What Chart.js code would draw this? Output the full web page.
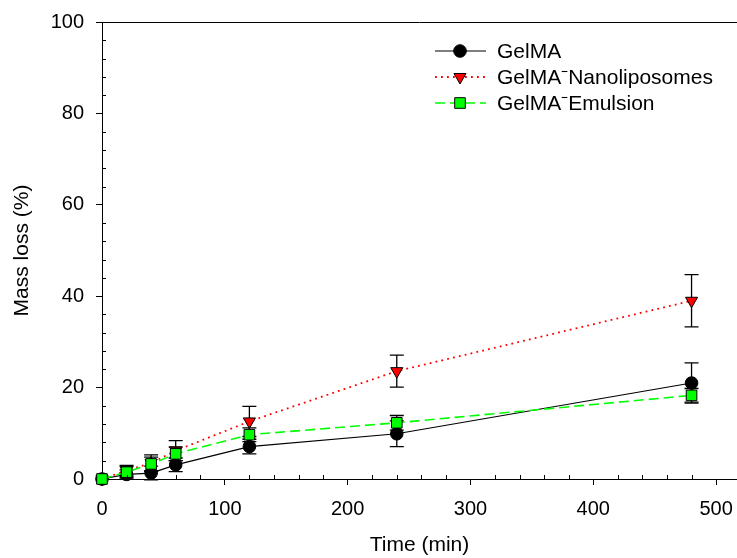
<!DOCTYPE html>
<html><head><meta charset="utf-8">
<script src="https://cdn.jsdelivr.net/npm/chart.js@4/dist/chart.umd.min.js"></script>
<style>html,body{margin:0;padding:0;background:#fff}</style>
</head><body>
<canvas id="c" width="737" height="558"></canvas>
<script>
// ---- data ----
const timeMin = [0, 20, 40, 60, 120, 240, 480];
const gelma = [0, 1.0, 1.3, 3.1, 7.1, 9.9, 21.0];
const gelmaErr = [0, 1.0, 1.5, 1.5, 1.6, 2.8, 4.4];
const nano = [0, 1.8, 3.5, 6.2, 12.6, 23.6, 39.0];
const nanoErr = [0, 1.2, 1.8, 2.2, 3.3, 3.5, 5.7];
const emul = [0, 1.5, 3.3, 5.5, 9.7, 12.3, 18.3];
const emulErr = [0, 1.2, 1.5, 1.5, 1.5, 1.6, 1.5];
const seriesNames = ['GelMA', 'GelMA\u207BNanoliposomes', 'GelMA\u207BEmulsion'];
const xTicks = [0, 100, 200, 300, 400, 500];
const yTicks = [0, 20, 40, 60, 80, 100];
const xMinorStep = 20;
const yMinorStep = 4;
const xTitle = 'Time (min)';
const yTitle = 'Mass loss (%)';

const FONT = "'Liberation Sans', Arial, Helvetica, sans-serif";
Chart.defaults.font.family = FONT;
Chart.defaults.font.size = 20;
Chart.defaults.color = '#000';

const toPts = (ys) => timeMin.map((x, i) => ({x: x, y: ys[i]}));

const errors = [gelmaErr, nanoErr, emulErr];

const datasets = [
  {label: seriesNames[0], data: toPts(gelma), borderColor: '#000', borderWidth: 1.2,
   pointStyle: 'circle', pointRadius: 6.3, pointBackgroundColor: '#000', pointBorderColor: '#000',
   pointBorderWidth: 1, order: 3, clip: false},
  {label: seriesNames[1], data: toPts(nano), borderColor: '#ff0000', borderWidth: 1.8, borderDash: [1.8, 4.2],
   pointStyle: 'triangle', pointRotation: 180, pointRadius: 7, pointBackgroundColor: '#ff0000', pointBorderColor: '#000',
   pointBorderWidth: 1, order: 2, clip: false},
  {label: seriesNames[2], data: toPts(emul), borderColor: '#00ff00', borderWidth: 1.6, borderDash: [10, 5],
   pointStyle: 'rect', pointRadius: 7.5, pointBackgroundColor: '#00ff00', pointBorderColor: '#000',
   pointBorderWidth: 1, order: 1, clip: false}
];

const errorBars = {
  id: 'errorBars',
  beforeDatasetsDraw(chart) {
    const ctx = chart.ctx, xs = chart.scales.x, ys = chart.scales.y;
    ctx.save();
    ctx.strokeStyle = '#000';
    ctx.lineWidth = 1.3;
    ctx.setLineDash([]);
    chart.data.datasets.forEach((ds, di) => {
      ds.data.forEach((p, i) => {
        const e = errors[di][i];
        if (!e) return;
        const px = xs.getPixelForValue(p.x);
        const top = ys.getPixelForValue(p.y + e);
        const bot = ys.getPixelForValue(p.y - e);
        ctx.beginPath();
        ctx.moveTo(px, top); ctx.lineTo(px, bot);
        ctx.moveTo(px - 7, top); ctx.lineTo(px + 7, top);
        ctx.moveTo(px - 7, bot); ctx.lineTo(px + 7, bot);
        ctx.stroke();
      });
    });
    ctx.restore();
  }
};

const frame = {
  id: 'frame',
  afterDraw(chart) {
    const ctx = chart.ctx, a = chart.chartArea, xs = chart.scales.x, ys = chart.scales.y;
    ctx.save();
    ctx.strokeStyle = '#000';
    ctx.lineWidth = 1;
    // top frame line
    ctx.beginPath();
    ctx.moveTo(a.left, a.top + 0.5); ctx.lineTo(a.right, a.top + 0.5);
    ctx.stroke();
    // minor ticks (inward)
    ctx.beginPath();
    for (let v = ys.min; v <= ys.max; v += yMinorStep) {
      if (yTicks.includes(v)) continue;
      const py = Math.round(ys.getPixelForValue(v)) + 0.5;
      ctx.moveTo(a.left, py); ctx.lineTo(a.left + 4, py);
    }
    for (let v = 0; v <= xs.max; v += xMinorStep) {
      if (xTicks.includes(v)) continue;
      const px = Math.round(xs.getPixelForValue(v)) + 0.5;
      ctx.moveTo(px, a.bottom); ctx.lineTo(px, a.bottom - 4);
    }
    ctx.stroke();
    // legend
    const lx0 = 435, lx1 = 486, mx = 460, tx = 497, rows = [51, 77, 103];
    chart.data.datasets.forEach((ds, i) => {
      const y = rows[i];
      ctx.save();
      ctx.strokeStyle = ds.borderColor;
      ctx.lineWidth = ds.borderWidth;
      ctx.setLineDash(ds.borderDash || []);
      ctx.beginPath();
      ctx.moveTo(lx0, y); ctx.lineTo(lx1, y);
      ctx.stroke();
      ctx.setLineDash([]);
      ctx.fillStyle = ds.pointBackgroundColor;
      ctx.strokeStyle = ds.pointBorderColor;
      ctx.lineWidth = ds.pointBorderWidth;
      Chart.helpers.drawPoint(ctx, {pointStyle: ds.pointStyle, radius: ds.pointRadius,
        rotation: ds.pointRotation || 0, borderWidth: ds.pointBorderWidth}, mx, y);
      ctx.fillStyle = '#000';
      ctx.font = '21px ' + FONT;
      ctx.textBaseline = 'middle';
      ctx.textAlign = 'left';
      ctx.fillText(ds.label, tx, y + 1);
      ctx.restore();
    });
    ctx.restore();
  }
};

const zeroPad = (s) => { s.paddingLeft = 0; s.paddingRight = 0; s.paddingTop = 0; s.paddingBottom = 0; };

new Chart(document.getElementById('c'), {
  type: 'line',
  data: {datasets: datasets},
  options: {
    responsive: false,
    animation: false,
    events: [],
    layout: {autoPadding: false, padding: {top: 22, right: 0, left: 0, bottom: 0}},
    elements: {line: {tension: 0, fill: false}},
    plugins: {legend: {display: false}, tooltip: {enabled: false}},
    scales: {
      x: {
        type: 'linear', min: 0, max: 517,
        afterBuildTicks: (s) => { s.ticks = xTicks.map(v => ({value: v})); },
        afterFit: (s) => { s.height = 79; zeroPad(s); },
        ticks: {padding: 12, color: '#000', font: {size: 20}},
        grid: {display: true, drawOnChartArea: false, drawTicks: true, tickLength: 6, color: '#000', tickColor: '#000', tickWidth: 1},
        border: {display: true, color: '#000', width: 1},
        title: {display: true, text: xTitle, color: '#000', font: {size: 21}, padding: {top: 7, bottom: 0}}
      },
      y: {
        type: 'linear', min: 0, max: 100,
        afterBuildTicks: (s) => { s.ticks = yTicks.map(v => ({value: v})); },
        afterFit: (s) => { s.width = 102; zeroPad(s); },
        ticks: {padding: 12, color: '#000', font: {size: 20}},
        grid: {display: true, drawOnChartArea: false, drawTicks: true, tickLength: 6, color: '#000', tickColor: '#000', tickWidth: 1},
        border: {display: true, color: '#000', width: 1},
        title: {display: true, text: yTitle, color: '#000', font: {size: 21}, padding: {top: 10, bottom: 0}}
      }
    }
  },
  plugins: [errorBars, frame]
});
</script>
</body></html>
